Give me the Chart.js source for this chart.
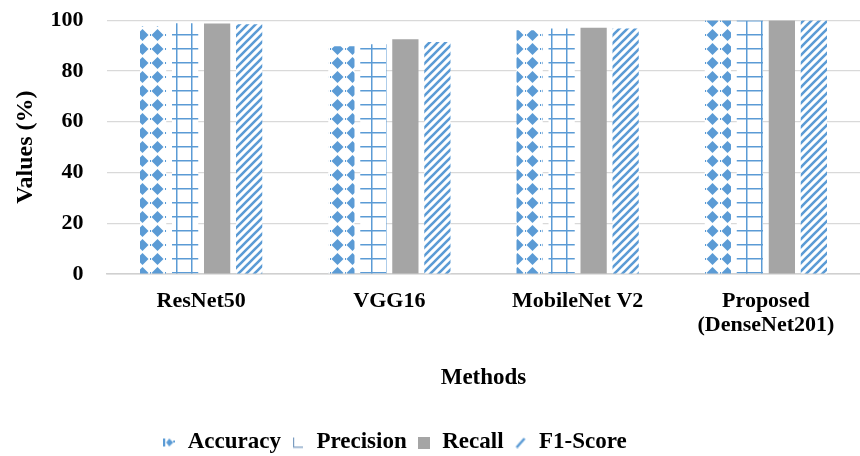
<!DOCTYPE html>
<html>
<head>
<meta charset="utf-8">
<script src="https://cdn.jsdelivr.net/npm/chart.js@4"></script>
<style>
  html, body { margin: 0; padding: 0; background: #ffffff; }
  #wrap { width: 860px; height: 456px; }
</style>
</head>
<body>
<div id="wrap"><canvas id="myChart" width="860" height="456"></canvas></div>
<script>
// data
const methods = ["ResNet50", "VGG16", "MobileNet V2", ["Proposed", "(DenseNet201)"]];
const accuracy = [97.6, 89.7, 96.0, 99.9];
const precision = [98.8, 90.5, 96.7, 99.9];
const recall = [98.7, 92.5, 97.0, 99.9];
const f1score = [98.4, 91.4, 96.7, 99.9];
const yTicks = [0, 20, 40, 60, 80, 100];

const blue = '#5b9bd5';
const grey = '#a5a5a5';

// little tiles for the fill patterns
function makeTile(w, h, draw){
    let c = document.createElement('canvas');
    c.width = w; c.height = h;
    let g = c.getContext('2d');
    g.fillStyle = '#ffffff';
    g.fillRect(0, 0, w, h);
    draw(g);
    return document.getElementById('myChart').getContext('2d').createPattern(c, 'repeat');
}

// diamonds
const dotPattern = makeTile(15, 14, function(g){
    g.fillStyle = blue;
    g.beginPath();
    g.moveTo(7.5, 1); g.lineTo(13.5, 7); g.lineTo(7.5, 13); g.lineTo(1.5, 7);
    g.closePath();
    g.fill();
    g.fillRect(0, 6, 1, 2);
});

// grid
const gridPattern = makeTile(15, 14, function(g){
    g.fillStyle = blue;
    g.fillRect(11, 0, 1.5, 14);
    g.fillRect(0, 6, 15, 1.5);
});

// diagonal stripes
const stripePattern = makeTile(8, 8, function(g){
    g.strokeStyle = blue;
    g.lineWidth = 2.6;
    g.beginPath();
    g.moveTo(-2, 10); g.lineTo(10, -2);
    g.moveTo(-2, 2); g.lineTo(2, -2);
    g.moveTo(6, 10); g.lineTo(10, 6);
    g.stroke();
});

// small legend markers
function legendIcon(kind){
    let c = document.createElement('canvas');
    c.width = 12; c.height = 12;
    let g = c.getContext('2d');
    if (kind === 'dot'){
        g.fillStyle = blue;
        g.fillRect(0, 2, 2, 8);
        g.beginPath(); g.moveTo(6, 2); g.lineTo(10, 6); g.lineTo(6, 10); g.lineTo(3, 6); g.closePath(); g.fill();
        g.fillRect(10, 4, 2, 2);
    } else if (kind === 'grid'){
        g.fillStyle = '#7a9cc0';
        g.fillRect(1, 1, 1.2, 10);
        g.fillRect(1, 10, 10, 1.2);
    } else if (kind === 'solid'){
        g.fillStyle = grey;
        g.fillRect(0, 0, 12, 12);
    } else {
        g.strokeStyle = blue;
        g.lineWidth = 2.5;
        g.beginPath(); g.moveTo(2, 11); g.lineTo(10, 2); g.stroke();
    }
    return c;
}

const font = "'Liberation Serif', 'Times New Roman', serif";

// legend in the original sits a bit left of centre
const legendShift = {
    id: 'legendShift',
    beforeDraw(chart){
        chart.legend.left -= 39;
        chart.legend.right -= 39;
    }
};

const data = {
    labels: methods,
    datasets: [
        { label: 'Accuracy', data: accuracy, backgroundColor: dotPattern, pointStyle: legendIcon('dot') },
        { label: 'Precision', data: precision, backgroundColor: gridPattern, pointStyle: legendIcon('grid') },
        { label: 'Recall', data: recall, backgroundColor: grey, pointStyle: legendIcon('solid') },
        { label: 'F1-Score', data: f1score, backgroundColor: stripePattern, pointStyle: legendIcon('stripe') }
    ]
};

const config = {
    type: 'bar',
    data: data,
    plugins: [legendShift],
    options: {
        responsive: false,
        animation: false,
        devicePixelRatio: 1,
        categoryPercentage: 0.68,
        barPercentage: 0.82,
        layout: { padding: { top: 0, right: 0, left: 7, bottom: -8 } },
        plugins: {
            tooltip: { enabled: false },
            legend: {
                position: 'bottom',
                labels: {
                    usePointStyle: true,
                    pointStyleWidth: 14,
                    color: '#000',
                    padding: 10,
                    font: { family: font, size: 23, weight: 'bold' }
                }
            }
        },
        scales: {
            x: {
                grid: { display: false, drawTicks: false },
                border: { color: '#d0d0d0', width: 1.5 },
                ticks: { color: '#000', padding: 15, maxRotation: 0, autoSkip: false, font: { family: font, size: 22, weight: 'bold', lineHeight: 1.1 } },
                title: { display: true, text: 'Methods', color: '#000', padding: { top: 12, bottom: 29 }, font: { family: font, size: 23, weight: 'bold' } }
            },
            y: {
                min: 0, max: 100,
                afterBuildTicks: function(axis){ axis.ticks = yTicks.map(v => ({ value: v })); },
                afterFit: function(axis){ axis.width = 100; },
                grid: { color: '#d9d9d9', lineWidth: 1.2, drawTicks: false },
                border: { display: false },
                ticks: { color: '#000', padding: 7, callback: v => v + '   ', font: { family: font, size: 22, weight: 'bold' } },
                title: { display: true, text: 'Values (%)', color: '#000', padding: { top: 4, bottom: 4 }, font: { family: font, size: 24, weight: 'bold' } }
            }
        }
    }
};

const myChart = new Chart(document.getElementById('myChart'), config);
</script>
</body>
</html>
